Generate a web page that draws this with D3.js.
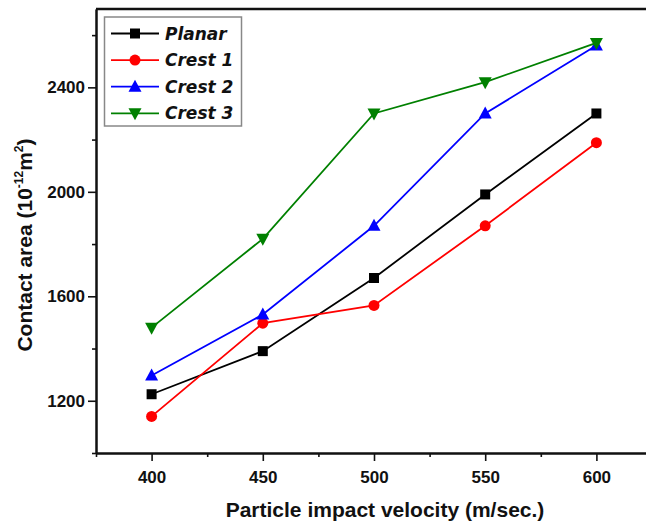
<!DOCTYPE html>
<html>
<head>
<meta charset="utf-8">
<script src="https://cdn.jsdelivr.net/npm/d3@7"></script>
<style>
  body { margin: 0; background: #fff; }
  svg { display: block; }
  .tick text { font-family: "Liberation Sans", Arial, sans-serif; font-weight: bold; font-size: 17px; fill: #111; }
</style>
</head>
<body>
<div id="chart"></div>
<script>
// Data
const velocities = [400, 450, 500, 550, 600];
const seriesNames = ["Planar", "Crest 1", "Crest 2", "Crest 3"];
const planar = [1225, 1390, 1670, 1990, 2300];
const crest1 = [1140, 1497, 1565, 1870, 2188];
const crest2 = [1297, 1530, 1870, 2300, 2560];
const crest3 = [1480, 1820, 2300, 2420, 2570];
const xTicks = [400, 450, 500, 550, 600];
const xMinorTicks = [375, 425, 475, 525, 575, 625];
const yTicks = [1200, 1600, 2000, 2400];
const yMinorTicks = [1000, 1400, 1800, 2200, 2600];

const seriesValues = [planar, crest1, crest2, crest3];
const colors = ["#000000", "#ff0000", "#0000ff", "#008000"];
const symbols = ["square", "circle", "up", "down"];

const width = 646;
const height = 521;
const margin = { top: 9, left: 96 };
const plotW = 556;
const plotH = 444;

const svg = d3.select("#chart").append("svg")
  .attr("width", width)
  .attr("height", height);

const x = d3.scaleLinear().domain([375, 625]).range([margin.left, margin.left + plotW]);
const y = d3.scaleLinear().domain([1000, 2700]).range([margin.top + plotH, margin.top]);

// Axes
svg.append("g")
  .attr("transform", "translate(0," + (margin.top + plotH) + ")")
  .call(d3.axisBottom(x).tickValues(xTicks).tickSize(8).tickSizeOuter(0).tickPadding(10).tickFormat(d3.format("d")));
svg.append("g")
  .attr("transform", "translate(0," + (margin.top + plotH) + ")")
  .call(d3.axisBottom(x).tickValues(xMinorTicks).tickSize(4).tickSizeOuter(0).tickFormat(""));

svg.append("g")
  .attr("transform", "translate(" + margin.left + ",0)")
  .call(d3.axisLeft(y).tickValues(yTicks).tickSize(8).tickSizeOuter(0).tickPadding(3).tickFormat(d3.format("d")));
svg.append("g")
  .attr("transform", "translate(" + margin.left + ",0)")
  .call(d3.axisLeft(y).tickValues(yMinorTicks).tickSize(4).tickSizeOuter(0).tickFormat(""));

svg.selectAll(".domain").attr("stroke", "#111").attr("stroke-width", 2);
svg.selectAll(".tick line").attr("stroke", "#111").attr("stroke-width", 1.6);

// Top frame line
svg.append("line")
  .attr("x1", margin.left).attr("x2", margin.left + plotW)
  .attr("y1", margin.top).attr("y2", margin.top)
  .attr("stroke", "#111").attr("stroke-width", 2.5);

// Axis titles
svg.append("text")
  .attr("x", 385).attr("y", 517)
  .attr("text-anchor", "middle")
  .attr("font-family", "Liberation Sans, Arial, sans-serif")
  .attr("font-weight", "bold")
  .attr("font-size", 21)
  .attr("fill", "#111")
  .text("Particle impact velocity (m/sec.)");

const yTitle = svg.append("text")
  .attr("transform", "translate(32,245) rotate(-90)")
  .attr("text-anchor", "middle")
  .attr("font-family", "Liberation Sans, Arial, sans-serif")
  .attr("font-weight", "bold")
  .attr("font-size", 21)
  .attr("fill", "#111");
yTitle.append("tspan").text("Contact area (10");
yTitle.append("tspan").attr("font-size", 12).attr("dy", -9).text("-12");
yTitle.append("tspan").attr("dy", 9).text("m");
yTitle.append("tspan").attr("font-size", 12).attr("dy", -9).text("2");
yTitle.append("tspan").attr("dy", 9).text(")");

// Marker shapes
function markerPath(kind) {
  if (kind === "square") return "M-5,-5H5V5H-5Z";
  if (kind === "circle") return d3.symbol(d3.symbolCircle, 95)();
  if (kind === "up") return "M0,-7L6.5,5H-6.5Z";
  return "M0,7L6.5,-5H-6.5Z";
}

const line = d3.line()
  .x((d, i) => x(velocities[i]))
  .y(d => y(d));

seriesValues.forEach((vals, s) => {
  svg.append("path")
    .datum(vals)
    .attr("fill", "none")
    .attr("stroke", colors[s])
    .attr("stroke-width", 1.8)
    .attr("d", line);

  svg.selectAll(".m" + s)
    .data(vals)
    .enter()
    .append("path")
    .attr("class", "m" + s)
    .attr("transform", (d, i) => "translate(" + x(velocities[i]) + "," + y(d) + ")")
    .attr("d", markerPath(symbols[s]))
    .attr("fill", colors[s]);
});

// Legend
const legend = svg.append("g");
legend.append("rect")
  .attr("x", 104.5).attr("y", 17)
  .attr("width", 137).attr("height", 109)
  .attr("fill", "#fff")
  .attr("stroke", "#888")
  .attr("stroke-width", 1.5);

seriesNames.forEach((name, s) => {
  const ly = 33.5 + s * 26.6;
  legend.append("line")
    .attr("x1", 111).attr("x2", 159)
    .attr("y1", ly).attr("y2", ly)
    .attr("stroke", colors[s])
    .attr("stroke-width", 1.8);
  legend.append("path")
    .attr("transform", "translate(135," + ly + ")")
    .attr("d", markerPath(symbols[s]))
    .attr("fill", colors[s]);
  legend.append("text")
    .attr("x", 165).attr("y", ly + 6)
    .attr("font-family", "DejaVu Sans, Verdana, sans-serif")
    .attr("font-weight", "bold")
    .attr("font-style", "italic")
    .attr("font-size", 17)
    .attr("fill", "#111")
    .text(name);
});
</script>
</body>
</html>
